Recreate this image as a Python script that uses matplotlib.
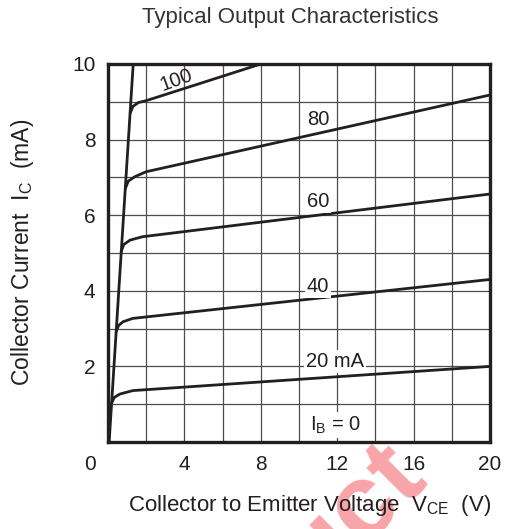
import matplotlib.pyplot as plt
from matplotlib.transforms import ScaledTranslation

plt.rcParams['font.family'] = ['Liberation Sans', 'DejaVu Sans']
plt.rcParams['mathtext.default'] = 'regular'

# saturation line (I_C rises almost vertically at low V_CE)
sat_v = [0.06, 1.32]
sat_i = [0.0, 10.0]

# collector current curves, one list pair per base current step
ib0_v = [0.0, 20.0]
ib0_i = [0.0, 0.0]
ib20_v = [0.19, 0.33, 0.63, 1.3, 20.0]
ib20_i = [1.03, 1.18, 1.27, 1.36, 2.0]
ib40_v = [0.43, 0.55, 0.78, 1.3, 20.0]
ib40_i = [2.92, 3.08, 3.18, 3.27, 4.3]
ib60_v = [0.69, 0.82, 1.15, 1.8, 20.0]
ib60_i = [5.03, 5.22, 5.34, 5.43, 6.56]
ib80_v = [0.91, 1.06, 1.41, 2.0, 20.0]
ib80_i = [6.71, 6.9, 7.02, 7.15, 9.18]
ib100_v = [1.16, 1.31, 1.59, 2.0, 8.0]
ib100_i = [8.70, 8.88, 8.98, 9.03, 10.0]

x_ticks = [0, 4, 8, 12, 16, 20]
y_ticks = [2, 4, 6, 8, 10]

ink = '#231f20'

fig = plt.figure(figsize=(5.1, 5.29), dpi=100)
ax = fig.add_axes([108 / 510, 87 / 529, 382 / 510, 378 / 529])
ax.set_facecolor('none')

ax.set_xlim(0, 20)
ax.set_ylim(0, 10)
ax.set_xticks(x_ticks)
ax.set_yticks(y_ticks)
ax.set_xticks(range(0, 21, 2), minor=True)
ax.set_yticks(range(0, 11, 1), minor=True)
ax.grid(which='both', color='#4d4d4d', linewidth=0.9)
ax.tick_params(which='both', length=0, labelsize=15, colors=ink)
ax.tick_params(axis='x', pad=9)
ax.tick_params(axis='y', pad=9)
ax.set_axisbelow(True)
for s in ax.spines.values():
    s.set_linewidth(2.4)
    s.set_color(ink)

# the origin label is shared by both axes, so nudge it left of the corner
zero_lbl = ax.get_xticklabels()[0]
zero_lbl.set_transform(zero_lbl.get_transform() +
                       ScaledTranslation(-18 / 100, 0, fig.dpi_scale_trans))

curves = [(ib0_v, ib0_i), (ib20_v, ib20_i), (ib40_v, ib40_i), (ib60_v, ib60_i),
          (ib80_v, ib80_i), (ib100_v, ib100_i), (sat_v, sat_i)]
for v, i in curves:
    ax.plot(v, i, color=ink, linewidth=2.0, solid_joinstyle='round',
            solid_capstyle='round', zorder=3)

white = dict(facecolor='white', edgecolor='none', pad=1.5)
fs = 14.5
ax.text(3.6, 9.58, '100', fontsize=fs, color=ink, rotation=20,
        ha='center', va='center', zorder=4)
ax.text(11.0, 8.52, '80', fontsize=fs, color=ink, ha='center', va='center', zorder=4)
ax.text(11.0, 6.36, '60', fontsize=fs, color=ink, ha='center', va='center',
        bbox=white, zorder=4)
ax.text(11.0, 4.11, '40', fontsize=fs, color=ink, ha='center', va='center',
        bbox=white, zorder=4)
ax.text(11.9, 2.12, '20 mA', fontsize=fs, color=ink, ha='center', va='center',
        bbox=white, zorder=4)
ax.text(11.9, 0.45, r'I$_B$ = 0', fontsize=fs, color=ink, ha='center', va='center',
        bbox=white, zorder=4)

fig.text(290 / 510, 1 - 17 / 529, 'Typical Output Characteristics',
         fontsize=16, color='#333333', ha='center', va='center')
fig.text(310 / 510, 1 - 506 / 529, r'Collector to Emitter Voltage  V$_{CE}$  (V)',
         fontsize=16, color=ink, ha='center', va='center')
fig.text(23 / 510, 1 - 252 / 529, r'Collector Current  I$_C$  (mA)',
         fontsize=16.5, color=ink, ha='center', va='center', rotation=90)

fig.text(428 / 510, 1 - 478 / 529, 'Product', fontsize=75, fontweight='bold',
         color='#ed1c24', alpha=0.4, rotation=45, rotation_mode='anchor',
         ha='right', va='baseline', zorder=-1)

fig.savefig('out.png', dpi=100)
